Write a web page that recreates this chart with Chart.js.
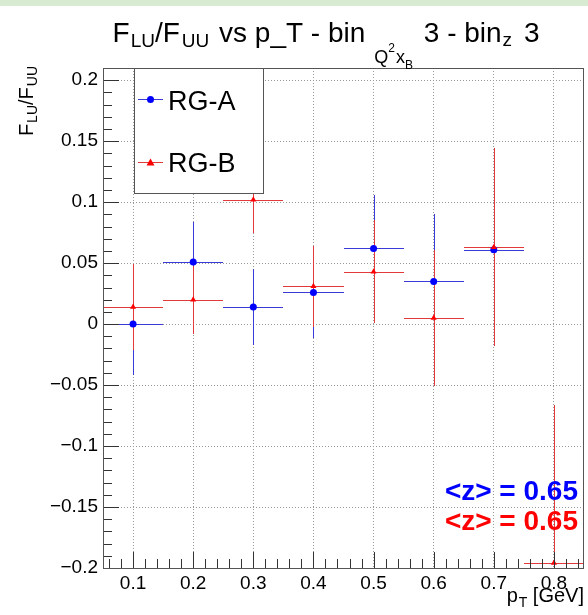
<!DOCTYPE html>
<html><head><meta charset="utf-8">
<script src="https://cdn.jsdelivr.net/npm/chart.js@4.4.1/dist/chart.umd.min.js"></script>
<style>html,body{margin:0;padding:0;background:#fff}canvas{display:block}</style>
</head><body>
<canvas id="c" width="588" height="615"></canvas>
<script>
// ---- data ----
const pT        = [0.1, 0.2, 0.3, 0.4, 0.5, 0.6, 0.7, 0.8];
const pTErr     = [0.05, 0.05, 0.05, 0.05, 0.05, 0.05, 0.05, 0.05];
const rgaValues = [0.000, 0.051, 0.014, 0.026, 0.062, 0.035, 0.061];
const rgaErrors = [0.042, 0.033, 0.031, 0.037, 0.044, 0.055, 0.070];
const rgbValues = [0.014, 0.020, 0.102, 0.031, 0.043, 0.005, 0.063, -0.196];
const rgbErrors = [0.035, 0.028, 0.027, 0.033, 0.042, 0.056, 0.081, 0.130];
const xTickValues = [0.1, 0.2, 0.3, 0.4, 0.5, 0.6, 0.7, 0.8];
const yTickValues = [-0.2, -0.15, -0.1, -0.05, 0, 0.05, 0.1, 0.15, 0.2];
const seriesNames = ['RG-A', 'RG-B'];
const zLabels = ['<z> = 0.65', '<z> = 0.65'];

const FONT = '"Liberation Sans", Arial, Helvetica, sans-serif';
const BLUE = '#0000ff', RED = '#ff0000';
const BLUE_BAR = '#3a3ad6', RED_BAR = '#e23a3a';
const TICK_COL = '#333333';

function pts(vals) { return vals.map((v, i) => ({x: pT[i], y: v})); }

function drawPieces(ctx, pieces, x, y) {
  for (const p of pieces) {
    ctx.font = (p.b ? 'bold ' : '') + p.f + 'px ' + FONT;
    x += (p.g || 0);
    ctx.fillText(p.t, x, y + (p.dy || 0));
    x += ctx.measureText(p.t).width;
  }
  return x;
}
function widthPieces(ctx, pieces) {
  let w = 0;
  for (const p of pieces) {
    ctx.font = (p.b ? 'bold ' : '') + p.f + 'px ' + FONT;
    w += (p.g || 0) + ctx.measureText(p.t).width;
  }
  return w;
}
function crisp(v) { return Math.round(v) + 0.5; }

const bgPlugin = {
  id: 'rootBg',
  beforeDraw(chart) {
    const ctx = chart.ctx;
    ctx.save();
    ctx.fillStyle = '#fff';
    ctx.fillRect(0, 0, chart.width, chart.height);
    ctx.fillStyle = '#d9ead3';
    ctx.fillRect(0, 0, chart.width, 6);
    ctx.restore();
  }
};

const errPlugin = {
  id: 'rootErr',
  beforeDatasetsDraw(chart) {
    const ctx = chart.ctx, xs = chart.scales.x, ys = chart.scales.y;
    const a = chart.chartArea;
    ctx.save();
    ctx.setLineDash([]);
    ctx.beginPath();
    ctx.rect(a.left, a.top, a.right - a.left, a.bottom - a.top);
    ctx.clip();
    const sets = [[rgaValues, rgaErrors, BLUE_BAR], [rgbValues, rgbErrors, RED_BAR]];
    for (const [vals, errs, col] of sets) {
      ctx.strokeStyle = col;
      ctx.lineWidth = 1;
      vals.forEach((v, i) => {
        const px = crisp(xs.getPixelForValue(pT[i]));
        const py = crisp(ys.getPixelForValue(v));
        ctx.beginPath();
        ctx.moveTo(Math.round(xs.getPixelForValue(pT[i] - pTErr[i])), py);
        ctx.lineTo(Math.round(xs.getPixelForValue(pT[i] + pTErr[i])), py);
        ctx.moveTo(px, Math.round(ys.getPixelForValue(v - errs[i])));
        ctx.lineTo(px, Math.round(ys.getPixelForValue(v + errs[i])));
        ctx.stroke();
      });
    }
    ctx.restore();
  }
};

const axisPlugin = {
  id: 'rootAxis',
  afterDraw(chart) {
    const ctx = chart.ctx, xs = chart.scales.x, ys = chart.scales.y;
    const a = chart.chartArea;
    ctx.save();
    ctx.setLineDash([]);
    ctx.strokeStyle = TICK_COL;
    ctx.lineWidth = 1;
    ctx.beginPath();
    for (let k = -20; k <= 21; k++) {
      const y = crisp(ys.getPixelForValue(k / 100));
      const len = (k % 5 === 0) ? 16 : 9;
      ctx.moveTo(a.left, y);
      ctx.lineTo(a.left + len, y);
    }
    for (let k = 3; k <= 42; k++) {
      const x = crisp(xs.getPixelForValue(k / 50));
      const len = (k % 5 === 0) ? 16 : 9;
      ctx.moveTo(x, a.bottom);
      ctx.lineTo(x, a.bottom - len);
    }
    ctx.stroke();
    ctx.strokeStyle = '#555';
    ctx.strokeRect(Math.round(a.left) + 0.5, Math.round(a.top) + 0.5,
                   Math.round(a.right - a.left) - 1, Math.round(a.bottom - a.top));
    ctx.restore();
  }
};

const textPlugin = {
  id: 'rootText',
  afterDraw(chart) {
    const ctx = chart.ctx;
    ctx.save();
    // legend
    const lx0 = 134, ly0 = 68, lx1 = 263, ly1 = 193;
    ctx.fillStyle = '#fff';
    ctx.fillRect(lx0, ly0, lx1 - lx0, ly1 - ly0);
    ctx.strokeStyle = '#555';
    ctx.lineWidth = 1;
    ctx.strokeRect(lx0 + 0.5, ly0 + 0.5, lx1 - lx0, ly1 - ly0);
    const legRows = [{y: 99, col: BLUE, bar: BLUE_BAR, shape: 'circle', base: 110},
                     {y: 162, col: RED, bar: RED_BAR, shape: 'triangle', base: 172}];
    legRows.forEach((r, i) => {
      ctx.strokeStyle = r.bar;
      ctx.beginPath(); ctx.moveTo(138, r.y + 0.5); ctx.lineTo(163, r.y + 0.5); ctx.stroke();
      ctx.fillStyle = r.col;
      ctx.beginPath();
      if (r.shape === 'circle') { ctx.arc(150.5, r.y + 0.5, 3.5, 0, Math.PI * 2); }
      else { ctx.moveTo(150.5, r.y - 3.5); ctx.lineTo(154.5, r.y + 3.5); ctx.lineTo(146.5, r.y + 3.5); ctx.closePath(); }
      ctx.fill();
      ctx.fillStyle = '#000';
      ctx.font = '27px ' + FONT;
      ctx.textAlign = 'left'; ctx.textBaseline = 'alphabetic';
      ctx.fillText(seriesNames[i], 168, r.base);
    });

    // title
    ctx.fillStyle = '#000';
    ctx.textAlign = 'left'; ctx.textBaseline = 'alphabetic';
    const title = [
      {t: 'F', f: 28}, {t: 'LU', f: 19, dy: 5, g: 1}, {t: '/F', f: 28},
      {t: 'UU', f: 19, dy: 5, g: 2}, {t: ' vs p_T - bin', f: 28, g: 2},
      {t: 'Q', f: 18, dy: 21, g: 9}, {t: '2', f: 12, dy: 10}, {t: 'x', f: 18, dy: 21, g: 1},
      {t: 'B', f: 12, dy: 27}, {t: ' 3 - bin', f: 28, g: 3}, {t: 'z', f: 19, dy: 4, g: 1},
      {t: ' 3', f: 28, g: 4}
    ];
    const tw = widthPieces(ctx, title);
    drawPieces(ctx, title, 326 - tw / 2, 42);

    // y axis title (rotated)
    const ytitle = [{t: 'F', f: 20}, {t: 'LU', f: 14, dy: 4, g: 1}, {t: '/F', f: 20}, {t: 'UU', f: 14, dy: 4, g: 1}];
    const yw = widthPieces(ctx, ytitle);
    ctx.save();
    ctx.translate(33, 66);
    ctx.rotate(-Math.PI / 2);
    drawPieces(ctx, ytitle, -yw, 0);
    ctx.restore();

    // x axis title
    const xtitle = [{t: 'p', f: 20}, {t: 'T', f: 14, dy: 5, g: 1}, {t: ' [GeV]', f: 20}];
    const xw = widthPieces(ctx, xtitle);
    drawPieces(ctx, xtitle, 584 - xw, 602);

    // <z> labels
    ctx.textAlign = 'right';
    ctx.font = 'bold 28px ' + FONT;
    ctx.fillStyle = BLUE; ctx.fillText(zLabels[0], 578, 500);
    ctx.fillStyle = RED;  ctx.fillText(zLabels[1], 578, 530);
    ctx.restore();
  }
};

new Chart(document.getElementById('c'), {
  type: 'scatter',
  data: {
    datasets: [
      {label: seriesNames[0], data: pts(rgaValues), pointStyle: 'circle', pointRadius: 3.5,
       backgroundColor: BLUE, borderColor: BLUE, borderWidth: 0, order: 1},
      {label: seriesNames[1], data: pts(rgbValues), pointStyle: 'triangle', pointRadius: 3.5,
       backgroundColor: RED, borderColor: RED, borderWidth: 0, order: 0}
    ]
  },
  options: {
    responsive: false,
    animation: false,
    devicePixelRatio: 1,
    layout: {padding: {top: 68, right: 4, left: 0, bottom: 0}},
    plugins: {legend: {display: false}, tooltip: {enabled: false}, title: {display: false}},
    scales: {
      x: {
        type: 'linear', min: 0.05, max: 0.85,
        afterBuildTicks: s => { s.ticks = xTickValues.map(v => ({value: v})); },
        afterFit: s => { s.height = 47; },
        ticks: {autoSkip: false, maxRotation: 0, padding: 4, color: '#000',
                font: {family: FONT, size: 19}, callback: v => String(Math.round(v * 10) / 10)},
        grid: {color: '#9a9a9a', lineWidth: 1, drawTicks: false},
        border: {display: false, dash: [1, 2]}
      },
      y: {
        type: 'linear', min: -0.2, max: 0.21,
        afterBuildTicks: s => { s.ticks = yTickValues.map(v => ({value: v})); },
        afterFit: s => { s.width = 103; },
        ticks: {autoSkip: false, padding: 5, color: '#000',
                font: {family: FONT, size: 19},
                callback: v => { const r = Math.round(v * 100) / 100; return r < 0 ? '\u2212' + String(-r) : String(r); }},
        grid: {color: '#9a9a9a', lineWidth: 1, drawTicks: false},
        border: {display: false, dash: [1, 2]}
      }
    }
  },
  plugins: [bgPlugin, errPlugin, axisPlugin, textPlugin]
});
</script>
</body></html>
